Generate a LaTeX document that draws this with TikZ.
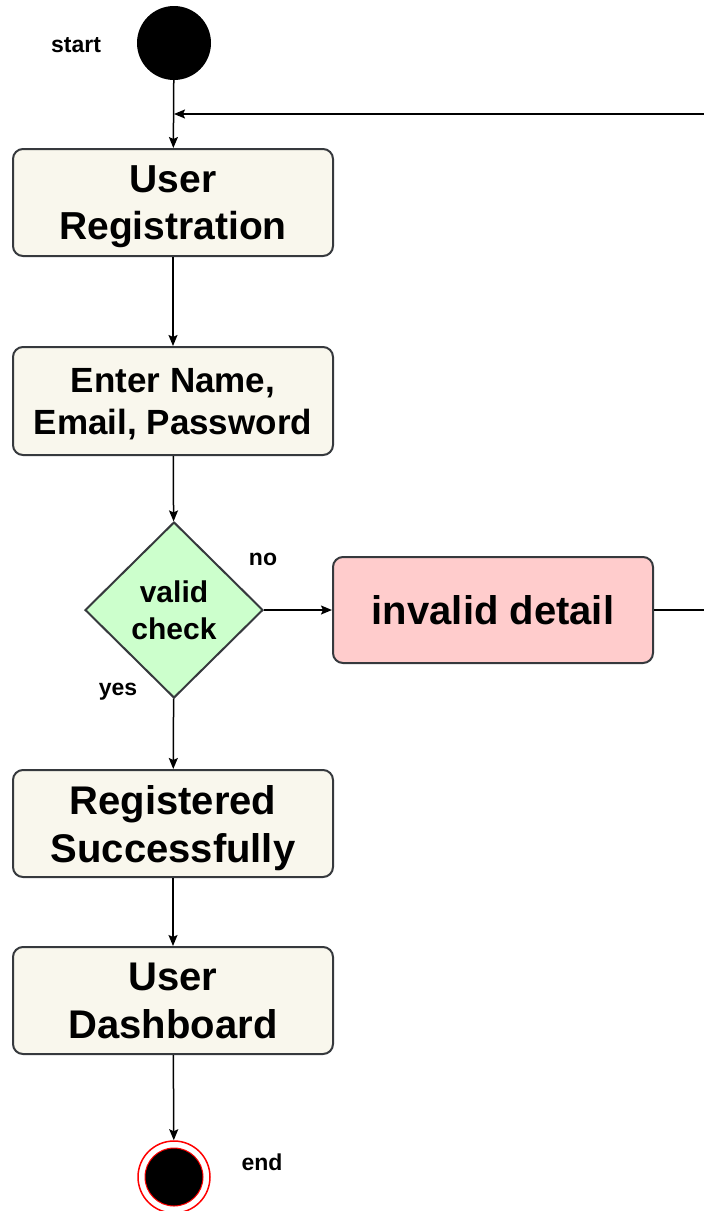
\documentclass[tikz,border=0pt]{standalone}
\usepackage{fontspec}
\setmainfont{Liberation Sans}
\usetikzlibrary{shapes.geometric,arrows.meta,calc}
\definecolor{boxfill}{HTML}{F9F7ED}
\definecolor{boxline}{HTML}{36393D}
\definecolor{okfill}{HTML}{CCFFCC}
\definecolor{badfill}{HTML}{FFCCCC}
\begin{document}
\begin{tikzpicture}[x=1pt,y=-1pt,
  actbox/.style={draw=boxline,fill=boxfill,line width=2pt,rounded corners=10pt,
    minimum width=320pt,minimum height=107pt,inner sep=0pt,align=center,
    font=\bfseries\fontsize{40}{48}\selectfont},
  twoline/.style={text depth=0pt},
  decision/.style={diamond,draw=boxline,fill=okfill,line width=2pt,
    minimum width=178pt,minimum height=176pt,inner sep=0pt,align=center,
    font=\bfseries\fontsize{30}{37}\selectfont},
  lbl/.style={inner sep=0pt,font=\bfseries\fontsize{23}{27}\selectfont},
  flow/.style={draw=black,line width=1.5pt,-{Stealth[length=11pt,width=9pt,inset=2pt]}},
  plain/.style={draw=black,line width=1.5pt}
]
\useasboundingbox (0,0) rectangle (704,1211);

\node[circle,fill=black,minimum size=74pt,inner sep=0pt] (start) at (174,43) {};
\node[lbl] (startlbl) at (76,45) {start};

\node[actbox,twoline,font=\bfseries\fontsize{39}{47}\selectfont] (reg) at (173,202.5) {User\\Registration};
\node[actbox,twoline,minimum height=108pt,font=\bfseries\fontsize{35}{42}\selectfont] (enter) at (173,401) {Enter Name,\\Email, Password};
\node[decision] (check) at (174,610) {valid\\check};
\node[actbox,fill=badfill,minimum height=106pt] (invalid) at (493,610) {invalid detail};
\node[actbox,twoline] (success) at (173,823.5) {Registered\\Successfully};
\node[actbox,twoline] (dash) at (173,1000.5) {User\\Dashboard};

\node[circle,draw=red,line width=1.5pt,fill=white,minimum size=72pt,inner sep=0pt] (endo) at (174,1177) {};
\node[circle,draw=red,line width=1pt,fill=black,minimum size=58pt,inner sep=0pt] (endi) at (174,1177) {};
\node[lbl] (endlbl) at (262,1162) {end};

\node[lbl] (nolbl) at (263,559) {no};
\node[lbl] (yeslbl) at (118,692) {yes};

\coordinate (merge) at (174,114);
\coordinate (rightlow) at (720,610);
\coordinate (righthigh) at (720,114);

\draw[flow] (start) -- (reg);
\draw[flow] (reg) -- (enter);
\draw[flow] (enter) -- (check);
\draw[flow] (check) -- (invalid);
\draw[flow] (check) -- (success);
\draw[flow] (success) -- (dash);
\draw[flow] (dash) -- (endo);
\draw[flow] (invalid.east) -- (rightlow) -- (righthigh) -- (merge);
\end{tikzpicture}
\end{document}
